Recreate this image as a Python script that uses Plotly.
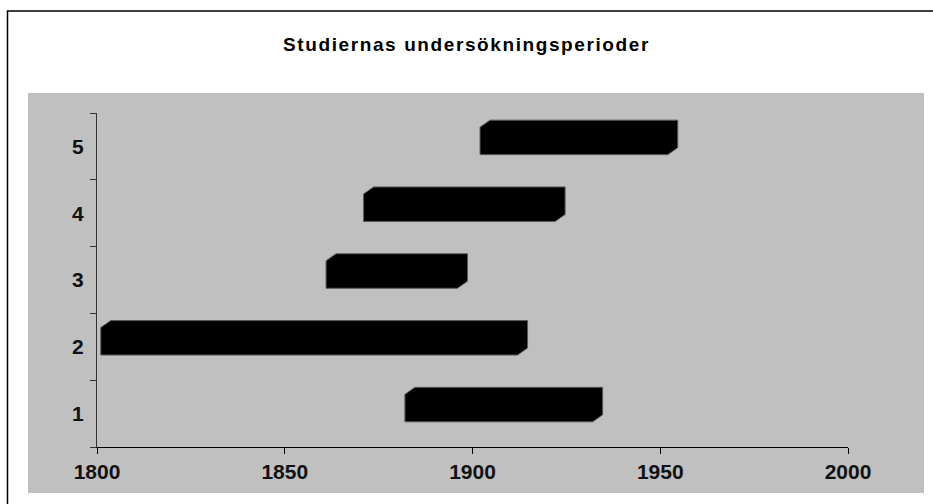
import plotly.graph_objects as go

# ---- data ----
studies = [1, 2, 3, 4, 5]
start_year = [1882, 1801, 1861, 1871, 1902]
end_year = [1932, 1912, 1896, 1922, 1952]
x_ticks = [1800, 1850, 1900, 1950, 2000]
title_text = "Studiernas undersökningsperioder"

# ---- style (3D look of the bars) ----
DEPTH_X = 2.66      # years
DEPTH_Y = 0.105     # category units
FRONT_LO = -0.1235  # front face bottom relative to category
FRONT_HI = 0.288    # front face top relative to category

W, H = 933, 504
ML, MR, MT, MB = 97, 85, 113, 57
PW, PH = W - ML - MR, H - MT - MB


def px(x):
    return (x - ML) / PW


def py(y):
    return (H - MB - y) / PH


fig = go.Figure()

for c, s, e in zip(studies, start_year, end_year):
    lo, hi = c + FRONT_LO, c + FRONT_HI
    xs = [s, s, s + DEPTH_X, e + DEPTH_X, e + DEPTH_X, e, s]
    ys = [lo, hi, hi + DEPTH_Y, hi + DEPTH_Y, lo + DEPTH_Y, lo, lo]
    fig.add_trace(go.Scatter(
        x=xs, y=ys, mode="lines", fill="toself",
        fillcolor="#000000", line=dict(color="#5a5a5a", width=1),
        hoverinfo="skip", showlegend=False,
    ))

font_family = "Liberation Sans, Arial, sans-serif"

fig.update_layout(
    width=W, height=H,
    margin=dict(l=ML, r=MR, t=MT, b=MB, pad=0),
    paper_bgcolor="#ffffff",
    plot_bgcolor="rgba(0,0,0,0)",
    showlegend=False,
    title=dict(
        text='<span style="letter-spacing:1.6px">' + title_text + '</span>',
        x=0.5, xanchor="center", xref="container",
        y=1 - 44 / H, yanchor="middle", yref="container",
        font=dict(family=font_family, size=19, color="#000000", weight="bold"),
    ),
    shapes=[
        dict(type="rect", xref="paper", yref="paper", layer="below",
             x0=px(28), x1=px(924), y0=py(493), y1=py(93),
             fillcolor="#c0c0c0", line=dict(width=0)),
        dict(type="rect", xref="paper", yref="paper", layer="above",
             x0=px(7.5), x1=px(945), y0=py(515), y1=py(11),
             fillcolor="rgba(0,0,0,0)", line=dict(color="#000000", width=1.5)),
    ],
)

fig.update_xaxes(
    range=[1800, 2000], tickmode="array", tickvals=x_ticks,
    ticktext=[str(v) for v in x_ticks],
    ticks="outside", ticklen=6, tickwidth=1, tickcolor="#000000",
    showline=True, linecolor="#000000", linewidth=1,
    showgrid=False, zeroline=False, fixedrange=True,
    tickfont=dict(family=font_family, size=21, color="#111111", weight="bold"),
    ticklabelstandoff=0,
)

fig.update_yaxes(
    range=[0.5, 5.5], tickmode="array", tickvals=studies,
    ticktext=[str(v) for v in studies],
    ticks="", showline=True, linecolor="#333333", linewidth=1,
    showgrid=False, zeroline=False, fixedrange=True,
    minor=dict(tickmode="array", tickvals=[0.5, 1.5, 2.5, 3.5, 4.5, 5.5],
               ticks="outside", ticklen=6, tickwidth=1, tickcolor="#333333",
               showgrid=False),
    tickfont=dict(family=font_family, size=21, color="#111111", weight="bold"),
    ticklabelstandoff=8,
)

fig.write_html(
    "out.html", include_plotlyjs=True,
    config={"displayModeBar": False},
    post_script="document.body.style.margin='0px';document.body.style.overflow='hidden';",
)
